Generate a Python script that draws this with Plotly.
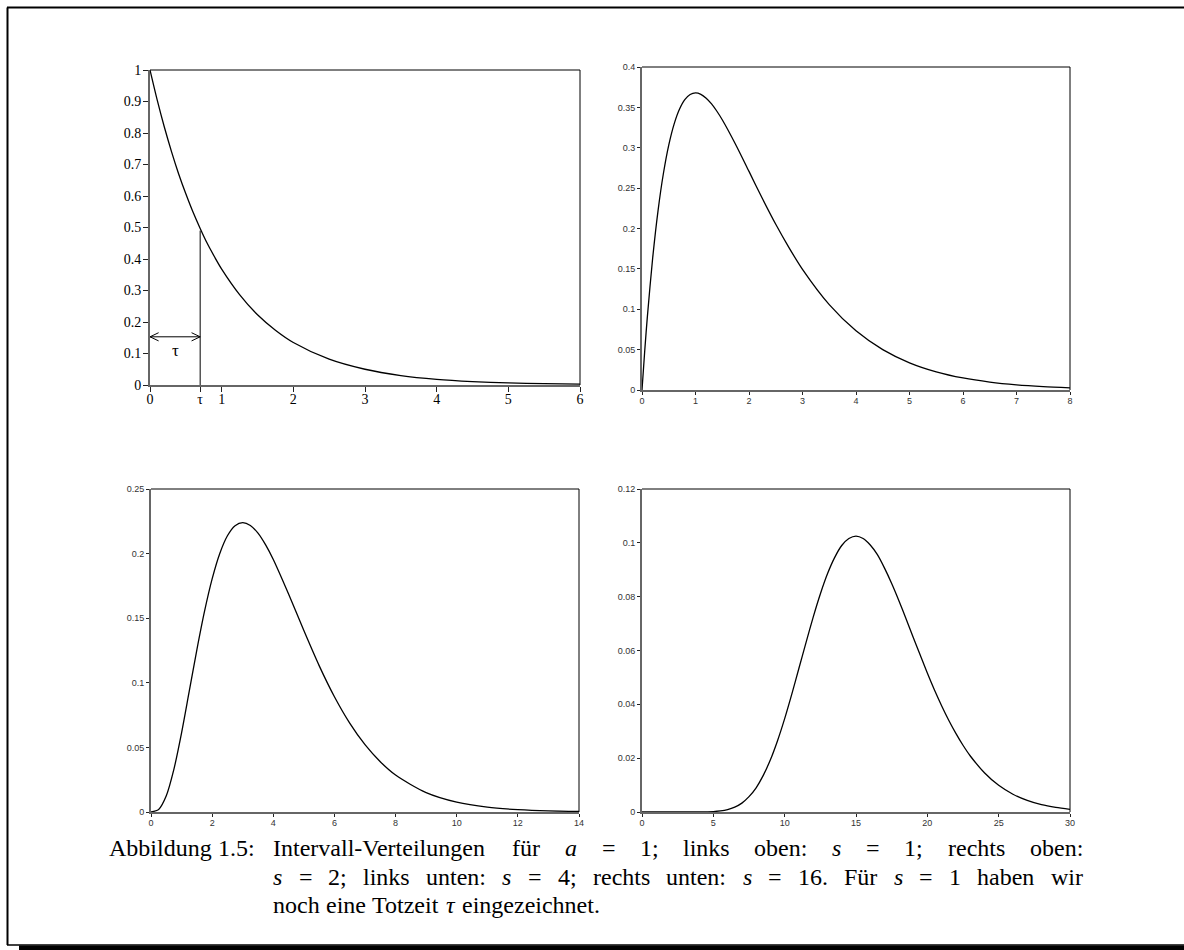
import plotly.graph_objects as go

# ---------------- data ----------------
# top left: s = 1
x_s1 = [0, 0.1, 0.2, 0.3, 0.4, 0.5, 0.6, 0.7, 0.8, 0.9, 1, 1.25, 1.5, 1.75, 2,
        2.5, 3, 3.5, 4, 4.5, 5, 5.5, 6]
y_s1 = [1.0, 0.905, 0.819, 0.741, 0.670, 0.607, 0.549, 0.497, 0.449, 0.407,
        0.368, 0.287, 0.223, 0.174, 0.135, 0.082, 0.050, 0.030, 0.018, 0.011,
        0.0067, 0.0041, 0.0025]
tau = 0.7
tau_height = 0.49
tau_arrow_y = 0.153

# top right: s = 2
x_s2 = [0, 0.05, 0.1, 0.2, 0.3, 0.4, 0.5, 0.6, 0.7, 0.8, 0.9, 1.0, 1.1, 1.2,
        1.3, 1.4, 1.5, 1.75, 2.0, 2.25, 2.5, 2.75, 3.0, 3.5, 4.0, 4.5, 5.0,
        5.5, 6.0, 6.5, 7.0, 7.5, 8.0]
y_s2 = [0, 0.0476, 0.0905, 0.1637, 0.2222, 0.2681, 0.3033, 0.3293, 0.3476,
        0.3595, 0.3659, 0.3679, 0.3662, 0.3614, 0.3543, 0.3452, 0.3347, 0.3041,
        0.2707, 0.2371, 0.2052, 0.1760, 0.1494, 0.1057, 0.0733, 0.0500, 0.0337,
        0.0225, 0.0149, 0.0098, 0.0064, 0.0042, 0.0027]

# bottom left: s = 4
x_s4 = [0, 0.25, 0.5, 0.75, 1.0, 1.25, 1.5, 1.75, 2.0, 2.25, 2.5, 2.75, 3.0,
        3.25, 3.5, 3.75, 4.0, 4.5, 5.0, 5.5, 6.0, 6.5, 7.0, 7.5, 8.0, 9, 10,
        11, 12, 13, 14]
y_s4 = [0, 0.0020, 0.0126, 0.0332, 0.0613, 0.0933, 0.1255, 0.1552, 0.1804,
        0.2001, 0.2138, 0.2216, 0.2240, 0.2218, 0.2158, 0.2067, 0.1954, 0.1687,
        0.1404, 0.1133, 0.0892, 0.0688, 0.0521, 0.0389, 0.0286, 0.0150, 0.0076,
        0.0037, 0.0018, 0.0008, 0.0004]

# bottom right: s = 16
x_s16 = [0, 2, 3, 4, 5, 5.5, 6, 6.5, 7, 7.5, 8, 8.5, 9, 9.5, 10, 10.5, 11,
         11.5, 12, 12.5, 13, 13.5, 14, 14.5, 15, 15.5, 16, 16.5, 17, 17.5, 18,
         18.5, 19, 19.5, 20, 20.5, 21, 21.5, 22, 22.5, 23, 24, 25, 26, 27, 28,
         29, 30]
y_s16 = [0, 0, 0.0000005, 0.000015, 0.00016, 0.0004, 0.00089, 0.0018, 0.0033,
         0.0057, 0.0090, 0.0136, 0.0194, 0.0265, 0.0347, 0.0438, 0.0534, 0.0630,
         0.0724, 0.0810, 0.0885, 0.0945, 0.0990, 0.1016, 0.1025, 0.1016, 0.0992,
         0.0956, 0.0906, 0.0849, 0.0786, 0.0719, 0.0650, 0.0583, 0.0516, 0.0453,
         0.0395, 0.0341, 0.0292, 0.0248, 0.0209, 0.0146, 0.0099, 0.0066, 0.0043,
         0.0027, 0.0017, 0.0010]

# axis ticks
p1_xticks = [0, tau, 1, 2, 3, 4, 5, 6]
p1_xlabels = ["0", "τ", "1", "2", "3", "4", "5", "6"]
p1_yticks = [0, 0.1, 0.2, 0.3, 0.4, 0.5, 0.6, 0.7, 0.8, 0.9, 1]
p1_ylabels = ["0", "0.1", "0.2", "0.3", "0.4", "0.5", "0.6", "0.7", "0.8", "0.9", "1"]
p2_xticks = [0, 1, 2, 3, 4, 5, 6, 7, 8]
p2_yticks = [0, 0.05, 0.1, 0.15, 0.2, 0.25, 0.3, 0.35, 0.4]
p3_xticks = [0, 2, 4, 6, 8, 10, 12, 14]
p3_yticks = [0, 0.05, 0.1, 0.15, 0.2, 0.25]
p4_xticks = [0, 5, 10, 15, 20, 25, 30]
p4_yticks = [0, 0.02, 0.04, 0.06, 0.08, 0.1, 0.12]

# caption: (text, italic) tokens per line
caption_label = [("Abbildung", 0), ("1.5:", 0)]
caption_line1 = [("Intervall-Verteilungen", 0), ("für", 0),
                 ("a", 1), ("=", 0), ("1;", 0), ("links", 0), ("oben:", 0), ("s", 1),
                 ("=", 0), ("1;", 0), ("rechts", 0), ("oben:", 0)]
caption_line2 = [("s", 1), ("=", 0), ("2;", 0), ("links", 0), ("unten:", 0), ("s", 1),
                 ("=", 0), ("4;", 0), ("rechts", 0), ("unten:", 0), ("s", 1), ("=", 0),
                 ("16.", 0), ("Für", 0), ("s", 1), ("=", 0), ("1", 0), ("haben", 0),
                 ("wir", 0)]
caption_line3 = [("noch", 0), ("eine", 0), ("Totzeit", 0), ("τ", 1),
                 ("eingezeichnet.", 0)]

# ---------------- figure ----------------
W, H = 1184, 950
SERIF = "Liberation Serif, Times New Roman, serif"
SANS = "Liberation Sans, Arial, sans-serif"

fig = go.Figure()

panels = [
    dict(x=x_s1, y=y_s1, xd=[150/W, 580/W], yd=[1-385/H, 1-70/H],
         xr=[0, 6], yr=[0, 1], xt=p1_xticks, xl=p1_xlabels, yt=p1_yticks, yl=p1_ylabels,
         font=dict(family=SERIF, size=14, color="black"), tl=5, xso=-5, yso=-1),
    dict(x=x_s2, y=y_s2, xd=[642/W, 1070/W], yd=[1-390/H, 1-67/H],
         xr=[0, 8], yr=[0, 0.4], xt=p2_xticks, xl=None, yt=p2_yticks, yl=None,
         font=dict(family=SANS, size=9, color="#333"), tl=3, xso=-2, yso=0),
    dict(x=x_s4, y=y_s4, xd=[151/W, 579/W], yd=[1-812/H, 1-489/H],
         xr=[0, 14], yr=[0, 0.25], xt=p3_xticks, xl=None, yt=p3_yticks, yl=None,
         font=dict(family=SANS, size=9, color="#333"), tl=3, xso=-2, yso=0),
    dict(x=x_s16, y=y_s16, xd=[642/W, 1070/W], yd=[1-812/H, 1-489/H],
         xr=[0, 30], yr=[0, 0.12], xt=p4_xticks, xl=None, yt=p4_yticks, yl=None,
         font=dict(family=SANS, size=9, color="#333"), tl=3, xso=-2, yso=0),
]

shapes = []
for i, p in enumerate(panels):
    n = "" if i == 0 else str(i + 1)
    fig.add_trace(go.Scatter(x=p["x"], y=p["y"], xaxis="x" + n, yaxis="y" + n,
                             mode="lines", line=dict(color="black", width=1.3,
                                                     shape="spline", smoothing=0.8),
                             showlegend=False, hoverinfo="skip"))
    common = dict(showgrid=False, zeroline=False, showline=True, linecolor="#666",
                  linewidth=2, ticks="outside", ticklen=p["tl"], tickwidth=1,
                  tickcolor="#222", tickfont=p["font"], automargin=False)
    xaxis = dict(domain=p["xd"], range=p["xr"], anchor="y" + n, tickvals=p["xt"],
                 ticktext=p["xl"] if p["xl"] else [f"{v:g}" for v in p["xt"]],
                 ticklabelstandoff=p["xso"], **common)
    yaxis = dict(domain=p["yd"], range=p["yr"], anchor="x" + n, tickvals=p["yt"],
                 ticktext=p["yl"] if p["yl"] else [f"{v:g}" for v in p["yt"]],
                 ticklabelstandoff=p["yso"], **common)
    fig.update_layout({"xaxis" + n: xaxis, "yaxis" + n: yaxis})
    shapes.append(dict(type="line", xref=f"x{n} domain", yref=f"y{n} domain",
                       x0=0, x1=1, y0=1, y1=1, line=dict(color="black", width=1)))
    shapes.append(dict(type="line", xref=f"x{n} domain", yref=f"y{n} domain",
                       x0=1, x1=1, y0=0, y1=1, line=dict(color="black", width=1)))

# tau marks in panel 1
shapes.append(dict(type="line", xref="x", yref="y", x0=tau, x1=tau, y0=0, y1=tau_height,
                   line=dict(color="black", width=1)))
shapes.append(dict(type="line", xref="x", yref="y", x0=0, x1=tau, y0=tau_arrow_y,
                   y1=tau_arrow_y, line=dict(color="black", width=1)))
dx, dy = 0.12, 0.013
shapes.append(dict(type="path", xref="x", yref="y",
                   path=f"M {dx},{tau_arrow_y+dy} L 0,{tau_arrow_y} L {dx},{tau_arrow_y-dy}",
                   line=dict(color="black", width=1)))
shapes.append(dict(type="path", xref="x", yref="y",
                   path=f"M {tau-dx},{tau_arrow_y+dy} L {tau},{tau_arrow_y} L {tau-dx},{tau_arrow_y-dy}",
                   line=dict(color="black", width=1)))

# outer page frame
shapes.append(dict(type="line", xref="paper", yref="paper", x0=7.5/W, x1=7.5/W,
                   y0=1-7.5/H, y1=1-945/H, line=dict(color="black", width=2)))
shapes.append(dict(type="line", xref="paper", yref="paper", x0=7/W, x1=1,
                   y0=1-7.5/H, y1=1-7.5/H, line=dict(color="black", width=2)))
shapes.append(dict(type="line", xref="paper", yref="paper", x0=7/W, x1=1,
                   y0=1-945/H, y1=1-945/H, line=dict(color="black", width=1.5)))
shapes.append(dict(type="line", xref="paper", yref="paper", x0=19/W, x1=1,
                   y0=1-948/H, y1=1-948/H, line=dict(color="black", width=5)))

annotations = [
    dict(x=0.35, y=0.11, xref="x", yref="y", text="τ", showarrow=False,
         font=dict(family=SERIF, size=17, color="black")),
]

# Liberation Serif (Times-metric) advance widths, 1/1000 em, for caption layout
ROMAN = {" ": 250, "-": 333, ".": 250, ":": 278, ";": 278, "=": 564, "A": 722,
         "F": 556, "I": 333, "T": 611, "V": 722, "a": 444, "b": 500, "c": 444,
         "d": 500, "e": 444, "f": 333, "g": 500, "h": 500, "i": 278, "k": 500,
         "l": 278, "n": 500, "o": 500, "r": 333, "s": 389, "t": 278, "u": 500,
         "v": 500, "w": 722, "z": 444, "ü": 500}
ITALIC = {"a": 500, "s": 389, "τ": 440}
CAP_SIZE = 24


def tok_width(text, ital):
    table = ITALIC if ital else ROMAN
    return sum(table.get(c, ROMAN.get(c, 500)) for c in text) * CAP_SIZE / 1000.0


def put(text, ital, x, y):
    txt = f"<i>{text}</i>" if ital else text
    annotations.append(dict(x=x / W, y=1 - y / H, xref="paper", yref="paper",
                            xanchor="left", yanchor="middle", text=txt,
                            showarrow=False, borderpad=0,
                            font=dict(family=SERIF, size=CAP_SIZE, color="black")))


def place_line(tokens, x_start, y_center, x_end=None):
    widths = [tok_width(t, it) for t, it in tokens]
    sp = ROMAN[" "] * CAP_SIZE / 1000.0
    gaps = [sp] * (len(tokens) - 1)
    if x_end is not None:
        extra = (x_end - x_start) - sum(widths) - sum(gaps)
        gaps = [g + extra / len(gaps) for g in gaps]
    x = x_start
    for k, ((t, it), w) in enumerate(zip(tokens, widths)):
        put(t, it, x, y_center)
        if k < len(gaps):
            x += w + gaps[k]


LEFT, HANG, RIGHT = 100, 272, 1082
place_line(caption_label, LEFT + 8, 848)
place_line(caption_line1, HANG, 848, x_end=RIGHT)
place_line(caption_line2, HANG, 877, x_end=RIGHT)
place_line(caption_line3, HANG, 905)

fig.update_layout(width=W, height=H, margin=dict(l=0, r=0, t=0, b=0),
                  paper_bgcolor="white", plot_bgcolor="white",
                  shapes=shapes, annotations=annotations, showlegend=False)

fig.write_html("out.html")
